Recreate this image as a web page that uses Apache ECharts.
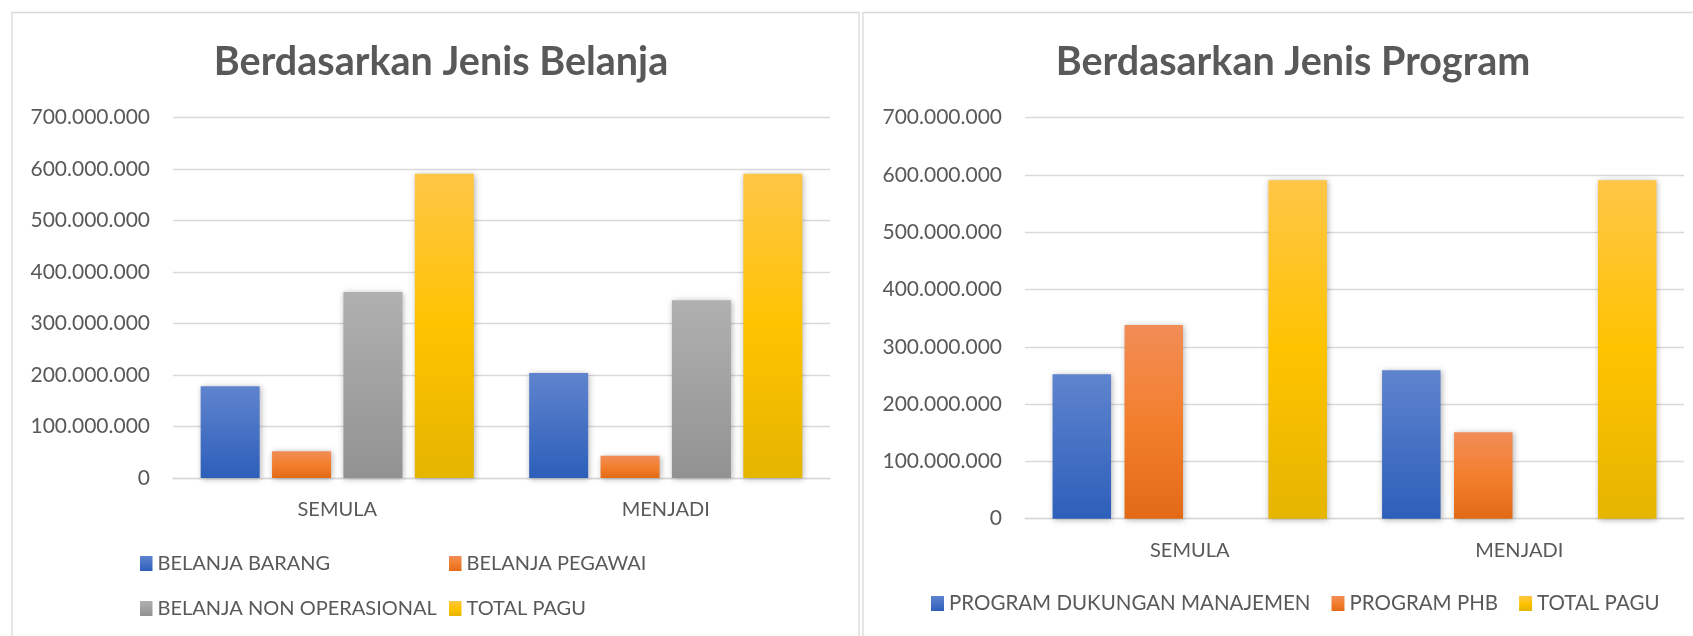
<!DOCTYPE html>
<html lang="id">
  <head>
    <meta charset="UTF-8" />
    <title>Berdasarkan Jenis Belanja / Program</title>
    <style>
      html, body {
        margin: 0;
        padding: 0;
        width: 100%;
        height: 100%;
        overflow: hidden;
        background: #fff;
      }
      #chart {
        width: 1693px;
        height: 636px;
      }
    </style>
    <script src="https://cdn.jsdelivr.net/npm/echarts@6/dist/echarts.min.js"></script>
  </head>
  <body>
    <div id="chart"></div>
    <script>
      // data
      const categories = ["SEMULA", "MENJADI"];
      const yTicks = [0, 100000000, 200000000, 300000000, 400000000, 500000000, 600000000, 700000000];

      // kiri: jenis belanja
      const belanjaBarang = [178000000, 204000000];
      const belanjaPegawai = [52000000, 43000000];
      const belanjaNonOperasional = [361000000, 345000000];
      const totalPaguBelanja = [591000000, 591000000];

      // kanan: jenis program
      const programDukungan = [252000000, 259000000];
      const programPhb = [338000000, 151000000];
      const totalPaguProgram = [591000000, 591000000];

      const textColor = "#595959";
      const gridColor = "#D9D9D9";
      const font = "Lato";

      function grad(stops) {
        return {
          type: "linear", x: 0, y: 0, x2: 0, y2: 1,
          colorStops: stops.map(s => ({ offset: s[0], color: s[1] }))
        };
      }
      const blue = grad([[0, "#5F84CE"], [1, "#2D5FBA"]]);
      const orange = grad([[0, "#F18D57"], [0.5, "#F37F2D"], [1, "#E26A17"]]);
      const gray = grad([[0, "#B0B0B0"], [1, "#929292"]]);
      const gold = grad([[0, "#FFC647"], [0.5, "#FFC300"], [1, "#E5B500"]]);

      function fmt(v) {
        return String(v).replace(/\B(?=(\d{3})+(?!\d))/g, ".");
      }

      function bar(name, data, color, axis, width, gap) {
        return {
          name: name,
          type: "bar",
          xAxisIndex: axis,
          yAxisIndex: axis,
          data: data,
          barWidth: width,
          barGap: gap,
          itemStyle: {
            color: color,
            shadowBlur: 6,
            shadowColor: "rgba(0,0,0,0.3)",
            shadowOffsetX: 1,
            shadowOffsetY: 1
          }
        };
      }

      const chart = echarts.init(document.getElementById("chart"), null, { renderer: "canvas" });

      const xAxisBase = {
        type: "category",
        data: categories,
        axisTick: { show: false },
        axisLine: { lineStyle: { color: gridColor, width: 1.3 } },
        axisLabel: { color: textColor, fontFamily: font, fontSize: 20, margin: 22 }
      };
      const yAxisBase = {
        type: "value",
        min: 0,
        max: yTicks[yTicks.length - 1],
        interval: yTicks[1] - yTicks[0],
        axisLine: { show: false },
        axisTick: { show: false },
        splitLine: { lineStyle: { color: gridColor, width: 1.3 } },
        axisLabel: { color: textColor, fontFamily: font, fontSize: 21, margin: 23, formatter: fmt }
      };

      const legendText = { color: textColor, fontFamily: font, fontSize: 20 };
      const titleText = { color: textColor, fontFamily: font, fontSize: 39.5, fontWeight: "bold" };

      const option = {
        animation: false,
        backgroundColor: "#fff",
        graphic: [
          { type: "rect", shape: { x: 12, y: 12.5, width: 847, height: 640 }, style: { fill: "none", stroke: gridColor, lineWidth: 1.3 } },
          { type: "rect", shape: { x: 863, y: 12.5, width: 840, height: 640 }, style: { fill: "none", stroke: gridColor, lineWidth: 1.3 } }
        ],
        title: [
          { text: "Berdasarkan Jenis Belanja", left: 436, top: 37, textAlign: "center", textStyle: titleText },
          { text: "Berdasarkan Jenis Program", left: 1288, top: 37, textAlign: "center", textStyle: titleText }
        ],
        legend: [
          { orient: "vertical", left: 135, top: 548.5, itemWidth: 12.5, itemHeight: 15, itemGap: 25, icon: "rect",
            textStyle: legendText, data: ["BELANJA BARANG", "BELANJA NON OPERASIONAL"] },
          { orient: "vertical", left: 444, top: 548.5, itemWidth: 12.5, itemHeight: 15, itemGap: 25, icon: "rect",
            textStyle: legendText, data: ["BELANJA PEGAWAI", "TOTAL PAGU"] },
          { orient: "horizontal", left: 926, top: 588, itemWidth: 13, itemHeight: 15, itemGap: 21, icon: "rect",
            textStyle: Object.assign({}, legendText, { fontSize: 20.5 }),
            data: ["PROGRAM DUKUNGAN MANAJEMEN", "PROGRAM PHB", "TOTAL PAGU"] }
        ],
        grid: [
          { left: 173, top: 117.5, width: 657, height: 360.5 },
          { left: 1025, top: 117.7, width: 659, height: 401 }
        ],
        xAxis: [
          Object.assign({ gridIndex: 0 }, xAxisBase),
          Object.assign({ gridIndex: 1 }, xAxisBase)
        ],
        yAxis: [
          Object.assign({ gridIndex: 0 }, yAxisBase),
          Object.assign({ gridIndex: 1 }, yAxisBase)
        ],
        series: [
          bar("BELANJA BARANG", belanjaBarang, blue, 0, 59, "21%"),
          bar("BELANJA PEGAWAI", belanjaPegawai, orange, 0, 59, "21%"),
          bar("BELANJA NON OPERASIONAL", belanjaNonOperasional, gray, 0, 59, "21%"),
          bar("TOTAL PAGU", totalPaguBelanja, gold, 0, 59, "21%"),
          bar("PROGRAM DUKUNGAN MANAJEMEN", programDukungan, blue, 1, 58.5, "23%"),
          bar("PROGRAM PHB", programPhb, orange, 1, 58.5, "23%"),
          // slot kosong antara PHB dan total (seperti di Excel)
          bar("-", [null, null], gray, 1, 58.5, "23%"),
          bar("TOTAL PAGU", totalPaguProgram, gold, 1, 58.5, "23%")
        ]
      };

      chart.setOption(option);
    </script>
  </body>
</html>
